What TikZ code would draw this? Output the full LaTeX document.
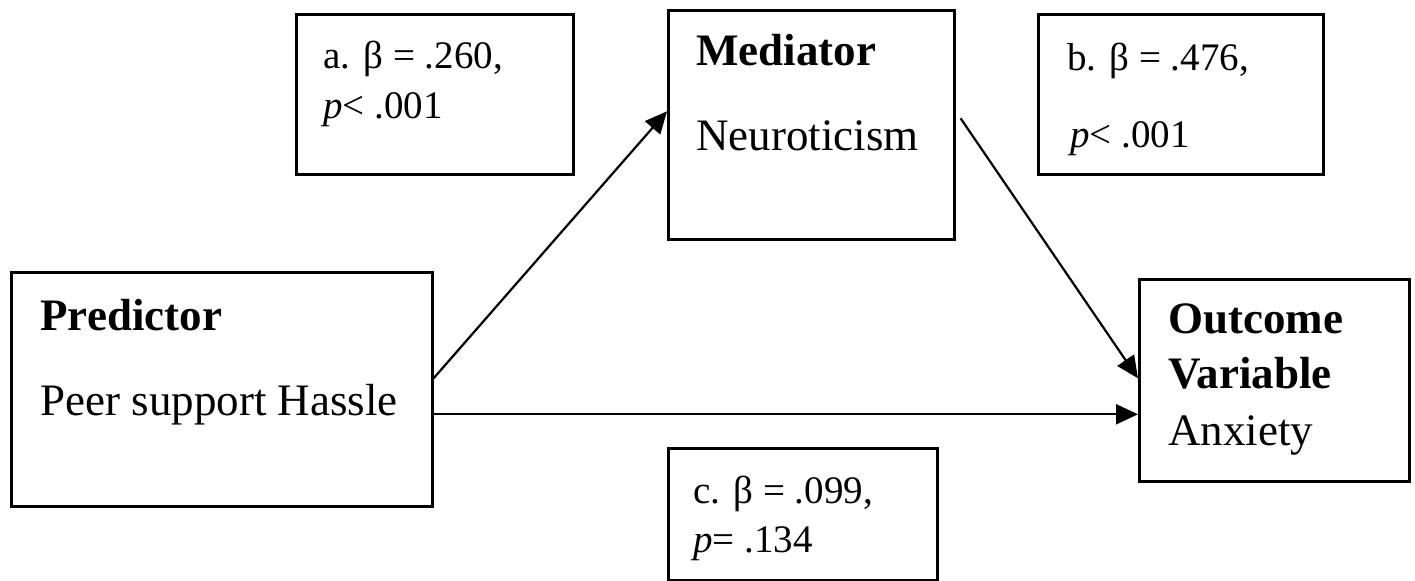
\documentclass[tikz,border=0pt]{standalone}
\usepackage{fontspec}
\setmainfont{Liberation Serif}
\usepackage{tikz}
\usetikzlibrary{positioning, arrows.meta}

\begin{document}
\begin{tikzpicture}[x=0.5pt, y=-0.5pt,
      varbox/.style={rectangle, draw, line width=1.3pt, inner sep=0pt, anchor=north west},
      statbox/.style={rectangle, draw, line width=1.3pt, inner sep=0pt, anchor=north west},
      head/.style={anchor=base west, inner sep=0pt, font=\bfseries\fontsize{22.5}{27}\selectfont},
      body/.style={anchor=base west, inner sep=0pt, font=\fontsize{22.5}{27}\selectfont},
      stat/.style={anchor=base west, inner sep=0pt, font=\fontsize{19.5}{23}\selectfont},
      path/.style={line width=1.1pt, -{Triangle[length=11pt, width=10pt]}}
    ]
      \useasboundingbox (0,0) rectangle (1415,580);

      % variable boxes
      \node[varbox, minimum width=210.5pt, minimum height=117pt] (pred) at (10,271) {};
      \node[varbox, minimum width=143pt, minimum height=114.5pt] (med) at (667,9) {};
      \node[varbox, minimum width=135pt, minimum height=101pt] (out) at (1138,278) {};

      \node[head] (predHead) at (40,330) {Predictor};
      \node[body] (predName) at (40,415) {Peer support Hassle};
      \node[head] (medHead) at (696,65) {Mediator};
      \node[body] (medName) at (696,150) {Neuroticism};
      \node[head] (outHead) at (1168,333) {Outcome};
      \node[head] (outHeadB) at (1168,388) {Variable};
      \node[body] (outName) at (1168,445) {Anxiety};

      % coefficient boxes
      \node[statbox, minimum width=138.5pt, minimum height=80pt] (pathA) at (295,13) {};
      \node[statbox, minimum width=142.5pt, minimum height=80pt] (pathB) at (1037,13) {};
      \node[statbox, minimum width=134.5pt, minimum height=66pt] (pathC) at (667,447) {};

      \node[stat] (pathAbeta) at (323,68) {a. β = .260,};
      \node[stat] (pathAp) at (323,118) {\textit{p}< .001};
      \node[stat] (pathBbeta) at (1067,70) {b. β = .476,};
      \node[stat] (pathBp) at (1070,147) {\textit{p}< .001};
      \node[stat] (pathCbeta) at (693,503) {c. β = .099,};
      \node[stat] (pathCp) at (693,552) {\textit{p}= .134};

      % paths
      \draw[path] ([yshift=5.5pt]pred.east) -- ([yshift=6.75pt]med.west);
      \draw[path] ([xshift=2.5pt, yshift=3.25pt]med.east) -- ([yshift=1pt]out.west);
      \draw[path] ([yshift=-12.5pt]pred.east) -- ([yshift=-12.5pt]pred.east -| out.west);
    \end{tikzpicture}
\end{document}
